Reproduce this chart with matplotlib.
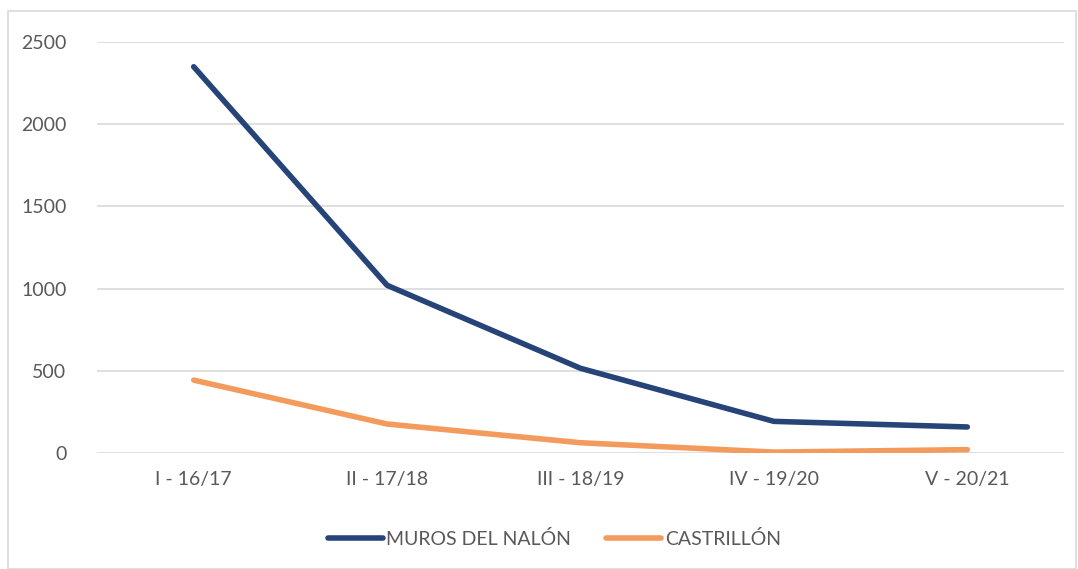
import matplotlib
matplotlib.use("Agg")
import matplotlib.pyplot as plt
from matplotlib.patches import Rectangle

categories = ["I - 16/17", "II - 17/18", "III - 18/19", "IV - 19/20", "V - 20/21"]
muros = [2350, 1020, 515, 192, 158]
castrillon = [443, 176, 62, 5, 20]
yticks = [0, 500, 1000, 1500, 2000, 2500]

plt.rcParams['font.family'] = ['Lato', 'DejaVu Sans']
fig = plt.figure(figsize=(10.78, 5.69), dpi=100)
ax = fig.add_axes([0.09, 0.204, 0.897, 0.722])

fig.patches.append(Rectangle((8/1078, 0), 1 - 8/1078 - 2/1078, 1 - 11/569, transform=fig.transFigure,
                             fill=False, edgecolor='#D9D9D9', linewidth=1.2))

x = list(range(len(categories)))
ax.plot(x, muros, color='#264478', linewidth=4, solid_capstyle='round', solid_joinstyle='round', label='MUROS DEL NALÓN')
ax.plot(x, castrillon, color='#F39B5C', linewidth=4, solid_capstyle='round', solid_joinstyle='round', label='CASTRILLÓN')

ax.set_xlim(-0.5, len(categories) - 0.5)
ax.set_ylim(0, 2500)
ax.set_yticks(yticks)
ax.set_xticks(x)
ax.set_xticklabels(categories)
ax.grid(axis='y', color='#D9D9D9', linewidth=1.2)
ax.set_axisbelow(True)
for s in ax.spines.values():
    s.set_visible(False)
ax.tick_params(length=0, labelsize=14, colors='#595959')
ax.tick_params(axis='x', pad=13)
ax.tick_params(axis='y', pad=22)

leg = ax.legend(loc='upper center', bbox_to_anchor=(0.473, -0.145), ncol=2, frameon=False,
                fontsize=14, handlelength=2.8, columnspacing=1.8, handletextpad=0.2)
for t in leg.get_texts():
    t.set_color('#595959')

fig.savefig('out.png', dpi=100)
